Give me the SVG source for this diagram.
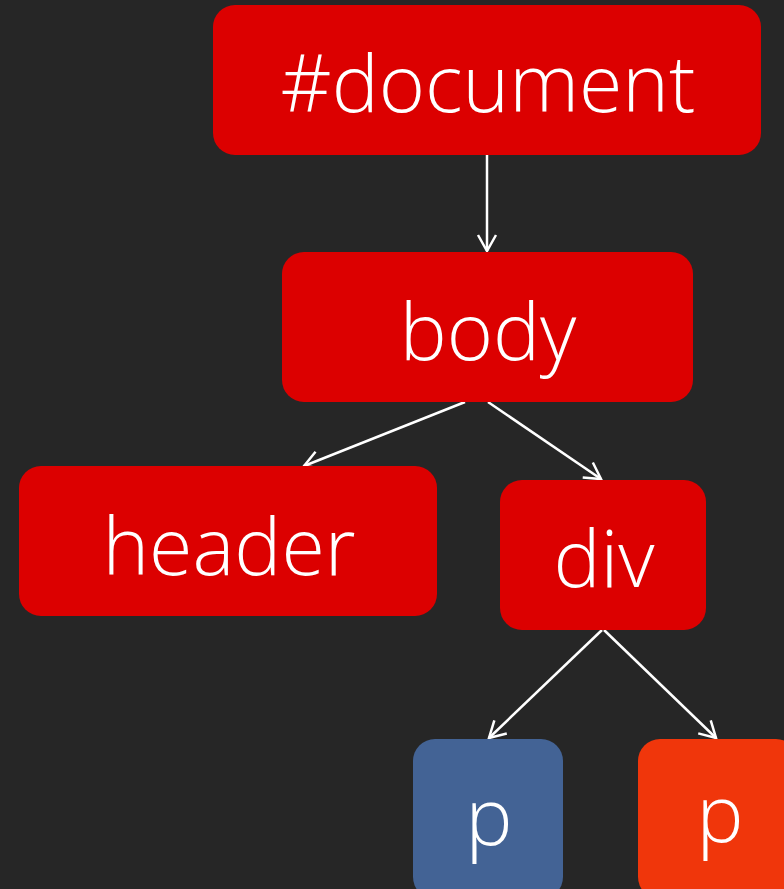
<svg xmlns="http://www.w3.org/2000/svg" width="784" height="889" viewBox="0 0 784 889">
<style>
.red{fill:#dc0000}
.lbl{fill:#ffffff;font-family:"Open Sans","Liberation Sans",sans-serif;font-weight:300;text-anchor:middle;font-size:79px}
.edge{stroke:#ffffff;stroke-width:2.5;fill:none;marker-end:url(#arr)}
</style>
<defs>
<marker id="arr" viewBox="0 0 24 24" refX="22" refY="12" markerWidth="24" markerHeight="24" markerUnits="userSpaceOnUse" orient="auto">
<path d="M6,3 L22,12 L6,21" fill="none" stroke="#ffffff" stroke-width="2.5"/>
</marker>
</defs>
<rect width="784" height="889" fill="#262626"/>
<g id="connectors">
<line class="edge" x1="487" y1="155" x2="487" y2="251"/>
<line class="edge" x1="465" y1="402" x2="304" y2="466"/>
<line class="edge" x1="488" y1="402" x2="601" y2="479"/>
<line class="edge" x1="602" y1="630" x2="489" y2="738"/>
<line class="edge" x1="604" y1="630" x2="716" y2="738"/>
</g>
<g id="document">
<rect class="red" x="213" y="5" width="548" height="150" rx="22"/>
<text class="lbl" x="488" y="112">#document</text>
</g>
<g id="body">
<rect class="red" x="282" y="252" width="411" height="150" rx="22"/>
<text class="lbl" x="488" y="360">body</text>
</g>
<g id="header">
<rect class="red" x="19" y="466" width="418" height="150" rx="22"/>
<text class="lbl" x="229" y="575">header</text>
</g>
<g id="div">
<rect class="red" x="500" y="480" width="206" height="150" rx="22"/>
<text class="lbl" x="604" y="587">div</text>
</g>
<g id="p1">
<rect x="413" y="739" width="150" height="160" rx="22" fill="#436395"/>
<text class="lbl" x="489" y="845">p</text>
</g>
<g id="p2">
<rect x="638" y="739" width="160" height="160" rx="22" fill="#f0360b"/>
<text class="lbl" x="720" y="842">p</text>
</g>
</svg>
